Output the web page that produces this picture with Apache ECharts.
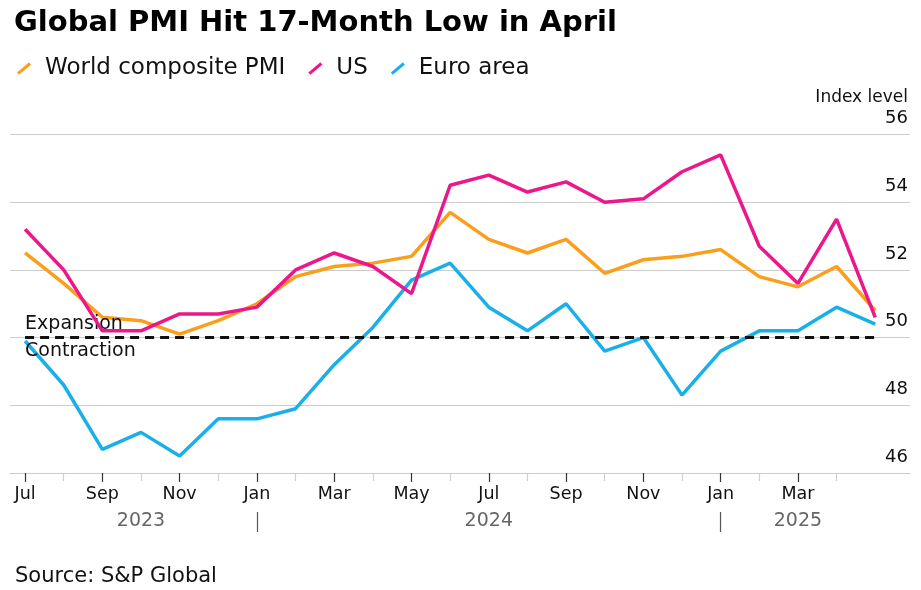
<!DOCTYPE html>
<html>
<head>
<meta charset="utf-8">
<script src="https://cdn.jsdelivr.net/npm/echarts@6/dist/echarts.min.js"></script>
<style>
html,body{margin:0;padding:0;background:#fff;}
#chart{width:921px;height:590px;}
</style>
</head>
<body>
<div id="chart"></div>
<script>
// Monthly readings, Jun 2023 .. Apr 2025 (each plotted at the end of its month)
const months = ['2023-06','2023-07','2023-08','2023-09','2023-10','2023-11','2023-12',
  '2024-01','2024-02','2024-03','2024-04','2024-05','2024-06','2024-07','2024-08','2024-09',
  '2024-10','2024-11','2024-12','2025-01','2025-02','2025-03','2025-04'];
const worldPMI = [52.5,51.6,50.6,50.5,50.1,50.5,51.0,51.8,52.1,52.2,52.4,53.7,52.9,52.5,52.9,51.9,52.3,52.4,52.6,51.8,51.5,52.1,50.8];
const usPMI    = [53.2,52.0,50.2,50.2,50.7,50.7,50.9,52.0,52.5,52.1,51.3,54.5,54.8,54.3,54.6,54.0,54.1,54.9,55.4,52.7,51.6,53.5,50.6];
const euroPMI  = [49.9,48.6,46.7,47.2,46.5,47.6,47.6,47.9,49.2,50.3,51.7,52.2,50.9,50.2,51.0,49.6,50.0,48.3,49.6,50.2,50.2,50.9,50.4];
// tick labels (month starts), every other month starting at Jul 2023
const tickLabels = ['Jul','Sep','Nov','Jan','Mar','May','Jul','Sep','Nov','Jan','Mar'];
const yearLabels = ['2023','2024','2025'];
const yTicks = [46,48,50,52,54,56];

const FONT = 'DejaVu Sans';
const idx = months.map((m,i)=>i);
const pairs = arr => arr.map((v,i)=>[idx[i], v]);
const evenTicks = [], oddTicks = [];
for (let i = 0; i <= 21; i++) (i % 2 ? oddTicks : evenTicks).push(i);
const labelVals = evenTicks.slice(0, tickLabels.length);
const yearPos = [3, 12, 20];
const yearSep = [6, 18];

const chart = echarts.init(document.getElementById('chart'), null, {renderer:'canvas'});
const legendIcon = 'path://M0,10.05 L12,0 L13.92,2.3 L1.92,12.3 Z';

const option = {
  backgroundColor: '#fff',
  animation: false,
  textStyle: {fontFamily: FONT},
  title: [
    {text: 'Global PMI Hit 17-Month Low in April', left: 9, top: 4,
     textStyle: {fontFamily: FONT, fontSize: 29, fontWeight: 'bold', color: '#000'}},
    {text: 'Index level', right: 8, top: 84,
     textStyle: {fontFamily: FONT, fontSize: 17, fontWeight: 'normal', color: '#111'}},
    {text: 'Source: S&P Global', left: 10, top: 561,
     textStyle: {fontFamily: FONT, fontSize: 21, fontWeight: 'normal', color: '#111'}}
  ],
  legend: {
    left: 12, top: 52,
    icon: legendIcon, itemWidth: 14, itemHeight: 13, itemGap: 23,
    textStyle: {fontFamily: FONT, fontSize: 23, color: '#111', padding: [0,0,0,9]},
    data: ['World composite PMI','US','Euro area']
  },
  grid: {left: 10, right: 11, top: 134.5, bottom: 117, containLabel: false, outerBoundsMode: 'none'},
  xAxis: [
    { type: 'value', min: -0.39, max: 22.9, position: 'bottom',
      axisLine: {show: true, lineStyle: {color: '#cccccc', width: 1}},
      axisTick: {show: true, customValues: evenTicks, length: 9, lineStyle: {color: '#333', width: 1.2}},
      axisLabel: {show: true, customValues: labelVals, margin: 12, fontFamily: FONT, fontSize: 17.5, color: '#111',
                  formatter: v => tickLabels[Math.round(v/2)] || ''},
      splitLine: {show: false} },
    { type: 'value', min: -0.39, max: 22.9, position: 'bottom',
      axisLine: {show: false},
      axisTick: {show: true, customValues: oddTicks, length: 8, lineStyle: {color: '#cfcfcf', width: 1.2}},
      axisLabel: {show: false}, splitLine: {show: false} },
    { type: 'value', min: -0.39, max: 22.9, position: 'bottom', offset: 39,
      axisLine: {show: false},
      axisTick: {show: true, customValues: yearSep, length: 20, lineStyle: {color: '#555', width: 1.2}},
      axisLabel: {show: true, customValues: yearPos, margin: 0, fontFamily: FONT, fontSize: 19, color: '#666',
                  formatter: v => yearLabels[yearPos.indexOf(Math.round(v))] || ''},
      splitLine: {show: false} }
  ],
  yAxis: {
    type: 'value', min: yTicks[0], max: yTicks[yTicks.length-1], interval: 2, position: 'right',
    axisLine: {show: false}, axisTick: {show: false},
    axisLabel: {inside: true, margin: 2, fontFamily: FONT, fontSize: 18, color: '#111',
                verticalAlign: 'bottom', padding: [0,0,7,0]},
    splitLine: {show: true, lineStyle: {color: '#cccccc', width: 1}}
  },
  series: [
    { name: 'Euro area', type: 'line', data: pairs(euroPMI), xAxisIndex: 0,
      symbol: 'none', color: '#19B0EA', lineStyle: {width: 3.5, color: '#19B0EA'}, z: 3 },
    { name: 'World composite PMI', type: 'line', data: pairs(worldPMI), xAxisIndex: 0,
      symbol: 'none', color: '#FA9E1B', lineStyle: {width: 3.5, color: '#FA9E1B'}, z: 4,
      markLine: {
        silent: true, symbol: 'none', animation: false,
        data: [
          [{coord: [0, 50], lineStyle: {color: '#111', width: 3, type: [9,6]},
            label: {show: true, formatter: 'Expansion', position: 'insideStartTop', distance: [0, 4],
                    fontFamily: FONT, fontSize: 19, color: '#111'}},
           {coord: [22, 50]}],
          [{coord: [0, 50], lineStyle: {color: 'rgba(0,0,0,0)', width: 1, type: 'solid'},
            label: {show: true, formatter: 'Contraction', position: 'insideStartBottom', distance: [0, 4],
                    fontFamily: FONT, fontSize: 19, color: '#111'}},
           {coord: [22, 50.0001]}]
        ]
      } },
    { name: 'US', type: 'line', data: pairs(usPMI), xAxisIndex: 0,
      symbol: 'none', color: '#EC178B', lineStyle: {width: 3.5, color: '#EC178B'}, z: 5 }
  ]
};
chart.setOption(option);
</script>
</body>
</html>
